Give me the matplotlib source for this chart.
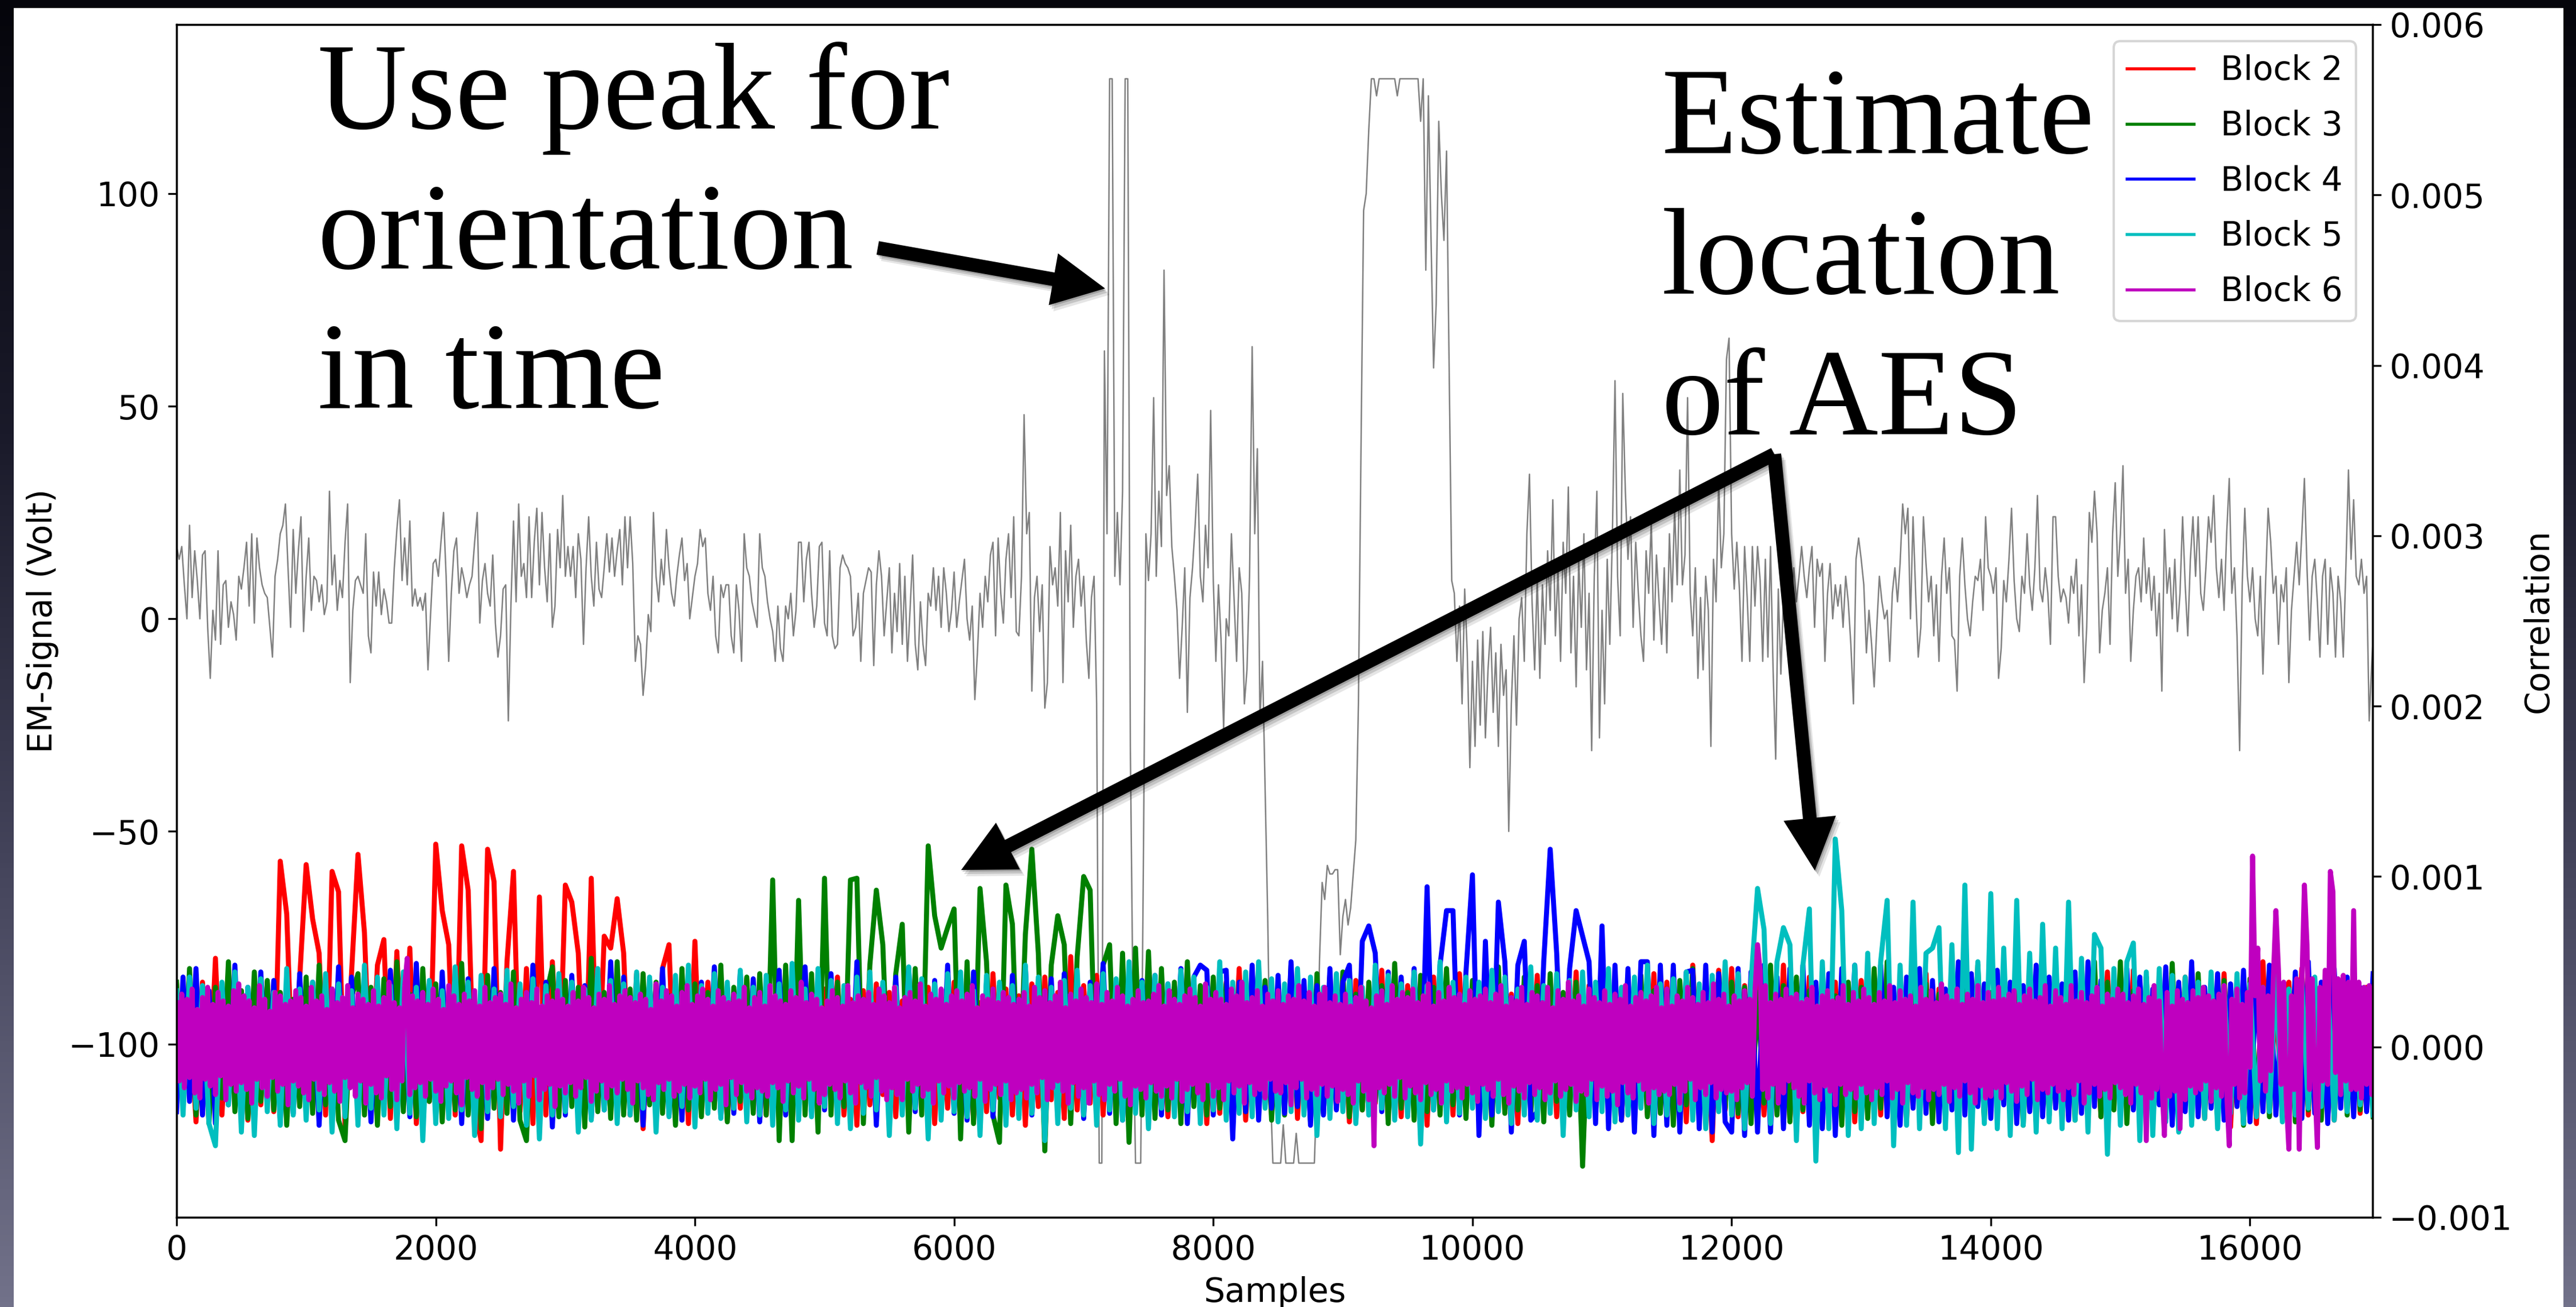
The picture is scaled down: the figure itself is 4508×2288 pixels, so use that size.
import numpy as np
import matplotlib
matplotlib.use("Agg")
import matplotlib.pyplot as plt
from matplotlib.patches import FancyArrow, Rectangle
from matplotlib.colors import LinearSegmentedColormap

W, H, DPI = 4508, 2288, 300

# EM trace in Volt, one value every 20 samples
EM_STEP = 20
em_signal = [
    17, 14, 17, 8, 0, 22, 5, 16, 9, 0, 15, 16, -2, -14, 2, -5, 16, -6, 8, 9, -2, 4, 1, -5, 10,
    7, 12, 18, 3, 20, -1, 19, 12, 8, 6, 5, -2, -9, 10, 14, 20, 22, 27, 12, -2, 21, 6, 16, 24, -3,
    10, 19, 2, 10, 9, 4, 8, 1, 4, 30, 8, 15, 2, 9, 5, 18, 27, -15, 2, 9, 10, 8, 6, 20, -4,
    -8, 11, 3, 11, 1, 7, 4, -1, -1, 12, 21, 28, 9, 19, 8, 23, 3, 7, 3, 5, 2, 6, -12, 1, 13,
    14, 10, 18, 25, 10, -10, 6, 16, 19, 6, 12, 9, 5, 8, 10, 18, 25, -1, 9, 13, 6, 3, 15, -1, -9,
    -4, 7, 8, -24, 3, 23, 4, 27, 10, 13, 5, 24, 5, 18, 26, 8, 25, 12, 4, 20, -2, 3, 21, 12, 29,
    10, 17, 10, 17, 5, 20, 14, -6, 12, 24, 10, 3, 18, 7, 5, 12, 20, 11, 19, 10, 16, 21, 8, 24, 12,
    24, 13, -10, -4, -6, -18, -11, 1, -3, 25, 10, 4, 14, 8, 21, 12, 6, 3, 10, 15, 19, 9, 13, 0, 5,
    10, 13, 21, 17, 19, 6, 2, 10, -4, -8, 8, 5, 8, 8, -4, -8, 8, 2, -10, 20, 12, 10, 4, 1, -2,
    20, 12, 10, 4, 0, -3, -10, 3, -7, -10, 3, 0, 6, -4, 2, 18, 18, 4, 14, 18, 6, -2, 3, 17, 18,
    -1, -4, 16, -4, -7, -6, 12, 15, 13, 12, 10, -4, -2, 6, -10, 6, 9, 12, 11, -11, 8, 16, 10, -4, 4,
    12, -8, 6, -3, 13, -6, 10, -10, 2, 15, -6, -12, 4, -6, -11, 6, 3, 12, 2, 10, -2, 12, 6, -3, 2,
    11, -2, 4, 9, 14, 0, -5, 3, -19, -8, 6, -2, 10, 4, 15, 18, -4, 19, 6, -1, 14, 20, 5, 24, -3,
    -4, 10, 48, 20, 25, -17, 5, 10, -3, 8, -21, -15, 17, 8, 12, 3, 25, -15, 16, 4, 22, -2, 10, 14, 3,
    10, -5, -14, 5, 10, -20, -128, -128, 63, 20, 127, 127, 10, 25, 8, 30, 127, 127, -30, -90, -128, -128, -128, -60, 20,
    9, 20, 52, 10, 30, 17, 82, 29, 36, 17, 10, 2, -14, -2, 12, -22, 5, 12, 22, 34, 10, 4, 22, 12, 49,
    9, -10, 8, -5, -26, 0, -4, 20, 5, -10, 12, 6, -20, -12, 10, 64, 20, 40, -24, -10, -40, -70, -110, -128, -128,
    -128, -128, -119, -128, -128, -128, -128, -121, -128, -128, -128, -128, -128, -128, -128, -110, -80, -62, -66, -58, -60, -60, -59, -59, -79,
    -70, -66, -72, -68, -60, -52, -20, 40, 96, 100, 115, 127, 127, 123, 127, 127, 127, 127, 127, 127, 127, 123, 127, 127, 127,
    127, 127, 127, 127, 127, 117, 127, 82, 123, 90, 59, 74, 117, 100, 89, 110, 60, 9, 6, -10, 3, -20, 7, -8, -35,
    -10, -30, -5, -25, -3, -28, -12, -2, -22, -8, -30, -6, -18, -12, -50, -20, -4, -25, 0, 5, -10, 20, 34, 4, -12,
    10, -14, 8, -6, 16, 2, 28, -4, 12, -10, 18, 6, 31, -8, 10, -16, 14, -2, 20, -12, 6, -31, 10, 30, -28,
    2, -20, 14, -6, 20, 56, 10, -4, 53, 30, 14, 24, -2, 18, 6, -4, -10, 16, 6, 23, -5, 15, 4, -6, 12,
    -8, 20, 4, 26, 8, 35, 8, 15, 52, 6, -4, 12, -14, 5, -12, 10, 2, -30, 14, 4, 33, 12, 20, 61, 66,
    20, 7, 18, 7, -10, 17, 5, -10, 17, 3, 17, 9, -10, 14, -9, 17, -12, -33, 7, -13, 5, 9, -4, 5, 12,
    4, 10, 17, 10, 5, 12, 17, -2, 14, 10, 13, -10, 6, 13, 0, 8, 3, 8, -2, 10, 4, -6, -20, 14, 19,
    14, 8, -8, 2, -6, -16, -2, 10, 4, 0, 2, -10, 6, 12, 4, 13, 27, 20, 26, 0, 24, 6, -9, -2, 24,
    13, 4, 10, -4, 8, -10, 10, 19, 6, 12, -4, -5, -17, 10, 19, 8, 0, -4, 4, 10, 9, 14, 2, 24, 12,
    10, 6, 12, -14, -7, 9, 4, 14, 26, 9, 0, -3, 10, 6, 20, 8, 2, 12, 29, 7, 4, 12, 6, -6, 24,
    24, 10, 4, 7, 5, -1, 10, 6, 14, -4, 8, -15, -2, 25, 18, 30, 20, -8, 2, 6, 12, -6, 20, 32, 10,
    20, 36, 6, 14, -10, 2, 10, 12, 4, 19, 6, 12, 2, 10, -4, 6, -17, 21, 6, 12, 0, 14, -3, 6, 24,
    8, -4, 14, 24, 10, 24, 6, 2, 12, 24, 18, 29, 12, 5, 14, 2, 20, 33, 6, 12, -4, -31, 8, 26, 10,
    4, 12, 0, -4, 10, -13, 8, 26, 18, 6, 10, -6, 8, 4, 12, -15, 2, 10, 18, 8, 20, 33, 12, -5, 10,
    14, 4, -9, 10, 14, -6, 12, 6, -9, 10, 4, -9, 12, 35, 14, 28, 10, 8, 14, 6, 10, -24, -10, 0, 0,
]

# correlation per block, units of 1e-5, one value every 50 samples
CORR_STEP = 50
block2 = [
    36, -30, 24, -44, 38, -34, 52, -40, 30, -32,
    33, -43, 28, -34, 38, -38, 109, 78, -30, 40,
    107, 75, 55, -40, 103, 91, -46, 43, 113, 67,
    -35, 48, 63, -42, 56, -30, 58, -45, 38, -32,
    119, 80, 60, -40, 118, 92, -35, -55, 116, 97,
    -60, 50, 103, -38, 46, -45, 88, -40, 50, -30,
    95, 85, 55, -40, 99, -35, 65, 58, 87, 55,
    -40, 43, -48, 38, -35, 46, 60, -40, 36, -45,
    62, -38, 38, -32, 33, -43, 28, -36, 40, -30,
    30, -40, 26, -35, 36, -45, 32, -30, 38, -38,
    34, -32, 41, -40, 28, -46, 33, -34, 37, -28,
    32, -41, 27, -37, 42, -32, 35, -45, 29, -36,
    38, -34, 31, -43, 26, -38, 43, -30, 34, -40,
    30, -46, 37, -35, 41, -31, 32, -42, 53, -37,
    36, -33, 42, -40, 27, -36, 39, -44, 33, -32,
    41, -38, 29, -41, 35, -34, 44, -30, 31, -45,
    34, -39, 38, -32, 46, -43, 32, -37, 28, -40,
    37, -35, 43, -42, 30, -38, 35, -31, 42, -36,
    31, -44, 39, -37, 33, -33, 45, -39, 28, -41,
    36, -32, 32, -46, 41, -36, 29, -40, 43, -34,
    35, -43, 28, -35, 38, -38, 31, -45, 34, -31,
    42, -37, 33, -41, 27, -34, 44, -48, 36, -39,
    30, -36, 39, -43, 35, -30, 32, -40, 43, -35,
    38, -38, 34, -44, 48, -32, 31, -55, 45, -37,
    46, -41, 36, -34, 43, -40, 30, -36, 48, -43,
    33, -38, 41, -46, 28, -35, 38, -32, 35, -44,
    39, -33, 32, -40, 44, -37, 29, -43, 36, -35,
    43, -39, 34, -34, 48, -45, 31, -38, 38, -41,
    32, -36, 40, -40, 35, -32, 46, -44, 33, -38,
    37, -43, 30, -37, 42, -35, 34, -41, 44, -33,
    29, -40, 45, -36, 33, -44, 38, -38, 31, -39,
    41, -35, 35, -42, 32, -38, 43, -47, 34, -34,
    36, -45, 50, -37, 30, -41, 38, -35, 46, -40,
    33, -36, 41, -43, 37, -34, 44, -39, 35, -32,
]
block3 = [
    38, -34, 46, -40, 30, -45, 35, -30, 50, -38,
    33, -42, 44, -32, 39, -37, 32, -46, 28, -35,
    41, -39, 48, -34, 34, -43, -55, 29, 43, -40,
    35, -46, 40, -35, 50, -38, 31, -41, 46, -32,
    37, -44, 33, -37, 49, -40, 28, -48, 42, -36,
    32, -39, 44, -43, -55, 36, -37, 30, 47, -41,
    39, -35, 35, -47, 52, -38, 32, -42, 50, -40,
    34, -43, 43, -34, 38, -39, 30, -46, 46, -37,
    37, -41, 32, -36, 48, -44, 35, -32, 41, -39,
    43, -40, 98, -55, 48, -55, 86, -40, 43, -50,
    99, -40, 38, -35, 98, 99, -45, 48, 92, 60,
    -40, 43, 72, -50, 46, -40, 118, 77, 58, 70,
    81, -54, 50, -45, 93, 50, -40, -56, 95, 72,
    -40, 66, 116, 55, -61, 48, 77, 60, -45, 53,
    100, 92, -40, 48, 60, -45, 55, -56, 58, -40,
    56, -42, 46, -37, 38, -45, 50, -35, 36, -40,
    41, -36, 37, -46, 32, -38, 45, -33, 39, -43,
    35, -40, 48, -35, 30, -44, 43, -39, 34, -34,
    44, -41, 31, -37, 38, -32, 36, -45, 49, -36,
    32, -43, 42, -38, 35, -40, 46, -34, 30, -42,
    39, -35, 34, -46, 47, -39, 29, -37, 41, -40,
    36, -44, 43, -32, 32, -40, 38, -70, 34, -38,
    45, -37, 30, -43, 37, -35, 42, -41, 33, -39,
    34, -46, 39, -34, 46, -38, 31, -42, 43, -36,
    38, -39, 35, -45, 32, -33, 48, -40, 36, -44,
    41, -37, 33, -41, 44, -35, 30, -46, 38, -38,
    35, -42, 46, -36, 50, -40, 32, -39, 42, -34,
    37, -45, 31, -38, 45, -41, 34, -35, 48, -43,
    32, -37, 42, -40, 36, -46, 39, -32, 33, -40,
    44, -39, 35, -43, 30, -36, 50, -41, 38, -37,
    50, -45, 33, -38, 41, -34, 37, -42, 49, -39,
    36, -40, 43, -36, 34, -43, 39, -38, 32, -46,
    40, -35, 35, -41, 46, -39, 31, -44, 38, -37,
    34, -43, 42, -34, 37, -40, 44, -37, 33, -41,
]
block4 = [
    -38, 41, -32, 46, -40, 33, -45, 37, -34, 48,
    -41, 35, -36, 44, -32, 39, -43, 32, -39, 43,
    -35, 38, -46, 34, -38, 47, -33, 41, -40, 36,
    -44, 33, -37, 45, -34, 38, -41, 49, -36, 37,
    -39, 44, -33, 35, -45, 40, -38, 32, -42, 46,
    -36, 39, -43, 33, -38, 48, -32, 38, -47, 35,
    -40, 42, -35, 36, -42, 34, -37, 50, -39, 41,
    -34, 37, -46, 39, -36, 46, -40, 33, -43, 43,
    -38, 38, -35, 47, -41, 35, -39, 44, -34, 40,
    -44, 36, -36, 45, -40, 41, -33, 47, -38, 39,
    -37, 43, -42, 34, -39, 50, -35, 38, -46, 36,
    -40, 41, -34, 46, -38, 35, -45, 39, -36, 48,
    -39, 34, -43, 44, -32, 38, -41, 36, -37, 42,
    -35, 47, -40, 35, -44, 40, -38, 43, -34, 37,
    -42, 38, -37, 49, -39, 34, -43, 45, -35, 39,
    -38, 42, -40, 37, -36, 46, -45, 41, 48, 45,
    -40, 44, 45, -54, 38, -38, 48, -43, 35, -36,
    42, -39, 50, -35, 39, -46, 36, -40, 46, -37,
    38, 48, -42, 62, 71, 55, -38, 44, -40, 41,
    -35, 46, -44, 94, -37, 48, 80, 80, -40, 44,
    101, -52, 62, -40, 85, 50, -50, 48, 62, -43,
    -38, 50, 116, 55, -40, 46, 80, 65, 50, -45,
    71, -48, 48, -43, 46, -50, 50, 50, -52, 48,
    -46, 48, -50, 44, 45, -48, 48, -50, 43, -44,
    -50, 46, -52, 44, -50, 48, -50, 41, -48, 46,
    -43, 48, -46, 38, -48, 43, -52, 46, -40, 48,
    -43, 44, -38, 48, -41, 35, -46, 41, -36, 46,
    -39, 39, -44, 34, -37, 50, -40, 43, -35, 37,
    -42, 45, -34, 38, -45, 36, -38, 48, -41, 41,
    -36, 37, -43, 44, -39, 50, -35, 39, -44, 35,
    -40, 46, -37, 41, -42, 34, -34, 47, -46, 38,
    -38, 50, -41, 35, -36, 43, -43, 37, -35, 45,
    -44, 40, -38, 48, -40, 34, -37, 44, -42, 50,
    -39, 38, -45, 46, -36, 41, -41, 35, -38, 43,
]
block5 = [
    33, -40, 41, -36, 36, -45, -58, 38, -34, 44,
    -50, 35, -52, 40, -38, 32, -46, 46, -40, 34,
    -43, 38, -37, 43, -50, 37, -41, 33, -46, 48,
    -36, 41, -40, 36, -48, 44, -39, 35, -55, 39,
    -45, 33, -42, 47, -37, 38, -52, 42, -38, 34,
    -41, 45, -35, 37, -46, 40, -54, 36, -40, 43,
    -38, 38, -50, 34, -43, 46, -37, 39, -45, 37,
    -40, 44, -36, 41, -50, 35, -41, 42, -35, 48,
    -47, 36, -39, 43, -42, 38, -36, 45, -44, 35,
    -40, 42, -46, 37, -37, 49, -43, 34, -41, 46,
    -35, 39, -45, 36, -48, 41, -39, 44, -37, 38,
    -52, 35, -40, 47, -36, 40, -54, 37, -43, 43,
    -38, 44, -41, 33, -52, 42, -37, 38, -46, 36,
    -42, 48, -39, 41, -55, 35, -45, 39, -36, 45,
    -40, 36, -46, 43, -37, 40, -43, 50, -39, 38,
    -48, 42, -36, 37, -41, 45, -38, 41, -45, 35,
    -37, 50, -43, 38, -39, 44, -41, 50, -36, 40,
    -44, 37, -38, 46, -40, 41, -52, 35, -42, 43,
    -38, 39, -45, 35, -40, 48, -36, 42, -43, 37,
    -41, 44, -57, 36, -37, 50, -44, 38, -39, 41,
    -36, 38, -42, 45, -38, 41, -45, 34, -40, 47,
    -43, 36, -39, 43, -52, 39, -37, 44, -41, 38,
    -38, 46, -44, 35, -40, 41, -36, 48, -45, 37,
    -40, 40, -37, 44, -43, 37, -48, 42, -38, 50,
    -40, 43, -48, 38, 93, 69, -45, 50, 70, 60,
    -55, 48, 81, -67, 50, -48, 122, 80, -52, 48,
    -48, 55, -45, 50, 86, -58, 48, -46, 85, -48,
    55, 58, 70, -48, 60, -62, 95, -60, 50, -45,
    90, -48, 58, -52, 86, -46, 55, -50, 72, -44,
    58, -48, 85, -43, 52, -50, 66, 58, -63, 46,
    -46, 50, 61, -55, 44, -52, 46, -44, 42, -50,
    41, -46, 38, -42, 44, -48, 36, -39, 43, -45,
    37, -41, 35, -38, 42, -44, 34, -40, 39, -36,
    41, -35, 38, -43, 36, -38, 44, -34, 33, -40,
]
# block 6 is drawn last and sits on top, sampled every 20
B6_STEP = 20
block6 = [
    26, -20, 31, -24, 28, -18, 34, -27, 22, -30, 29, -19, 35, -23, 25, -28, 32, -17, 27, -31, 24, -22, 33, -26, 37,
    -21, 30, -25, 27, -33, 23, -19, 36, -24, 28, -29, 21, -18, 32, -26, 30, -22, 25, -34, 27, -20, 33, -23, 29, -27,
    24, -31, 35, -19, 27, -25, 30, -28, 22, -21, 34, -26, 26, -32, 29, -18, 36, -24, 23, -29, 31, -20, 28, -33, 25,
    -22, 33, -27, 24, -30, 29, -17, 38, -25, 26, -31, 23, -20, 35, 52, -28, 30, -24, 27, -21, 32, -29, 25, -19, 34,
    -26, 28, -32, 22, -23, 36, -20, 30, -27, 25, -34, 31, -18, 27, -25, 33, -29, 24, -21, 35, -30, 26, -24, 29, -19,
    31, -28, 25, -22, 37, -26, 23, -33, 28, -20, 32, -29, 26, -17, 34, -31, 24, -25, 30, -22, 27, -35, 33, -23, 28,
    -27, 24, -21, 32, -29, 27, -24, 35, -18, 29, -32, 23, -26, 31, -20, 28, -30, 36, -23, 25, -27, 30, -19, 33, -25,
    29, -33, 26, -20, 31, -24, 28, -28, 22, -31, 37, -21, 27, -25, 33, -19, 30, -29, 24, -26, 32, -22, 36, -30, 25,
    -23, 30, -27, 34, -19, 28, -31, 24, -25, 33, -22, 29, -34, 26, -18, 31, -28, 27, -21, 35, -26, 23, -30, 29, -24,
    32, -26, 24, -29, 36, -21, 30, -24, 27, -32, 25, -20, 33, -27, 29, -23, 38, -30, 26, -19, 31, -25, 28, -33, 23,
    -28, 27, -22, 33, -25, 29, -30, 24, -20, 36, -27, 26, -33, 30, -21, 28, -24, 32, -29, 25, -18, 34, -26, 30, -31,
    26, -24, 35, -28, 23, -31, 29, -19, 32, -26, 27, -22, 37, -29, 24, -25, 31, -33, 28, -20, 34, -27, 25, -23, 30,
    -30, 33, -21, 27, -26, 31, -24, 36, -29, 23, -19, 30, -32, 28, -25, 34, -22, 26, -28, 32, -20, 29, -31, 25, -27,
    28, -25, 32, -30, 24, -22, 35, -27, 29, -18, 33, -31, 26, -24, 30, -20, 38, -26, 23, -33, 31, -21, 27, -29, 34,
    -24, 29, -33, 26, -20, 37, -28, 25, -31, 32, -22, 27, -26, 35, -19, 30, -29, 24, -34, 28, -23, 33, -25, 26, -30,
    27, -21, 31, -26, 36, -29, 24, -23, 33, -30, 28, -19, 25, -32, 30, -25, 34, -22, 29, -27, 24, -31, 37, -20, 28,
    -29, 32, -24, 28, -31, 25, -20, 34, -27, 30, -23, 38, -33, 26, -21, 29, -28, 33, -25, 24, -30, 31, -19, 27, -26,
    33, -27, 25, -21, 30, -34, 28, -24, 36, -19, 27, -30, 32, -25, 24, -28, 31, -22, 35, -29, 26, -23, 30, -32, 25,
    -25, 31, -28, 24, -33, 29, -20, 35, -26, 27, -31, 23, -58, 30, -24, 33, -27, 25, -22, 36, -29, 28, -18, 32, -30,
    29, -23, 34, -27, 26, -31, 30, -21, 37, -28, 24, -25, 32, -33, 27, -20, 35, -26, 29, -24, 31, -30, 25, -22, 33,
    -27, 28, -32, 30, -22, 34, -25, 26, -29, 31, -19, 36, -28, 24, -33, 29, -23, 27, -26, 35, -30, 25, -21, 32, -28,
    30, -24, 26, -31, 35, -27, 23, -20, 33, -29, 28, -25, 38, -22, 27, -32, 30, -26, 24, -28, 34, -19, 29, -31, 26,
    -23, 33, -29, 25, -26, 31, -34, 28, -21, 36, -27, 24, -30, 29, -20, 32, -25, 27, -33, 30, -24, 35, -28, 23, -26,
    34, -28, 24, -22, 30, -33, 27, -26, 35, -19, 29, -31, 25, -24, 32, -28, 26, -21, 37, -30, 28, -25, 31, -27, 24,
    -26, 30, -31, 27, -24, 33, -21, 28, -29, 32, 60, 45, -25, 36, -30, 26, -22, 31, -33, 28, -27, 34, -20, 29, -24,
    31, -29, 26, -33, 28, -20, 35, -27, 24, -31, 30, -23, 33, -26, 27, -34, 29, -22, 36, -28, 25, -25, 32, -30, 27,
    -22, 34, -27, 29, -31, 25, -24, 32, -28, 27, -20, 36, -30, 26, -25, 33, -33, 28, -21, 30, -27, 24, -29, 35, -24,
    28, -31, 33, -25, 26, -28, 37, -22, 30, -32, 27, -24, 34, -29, 25, -20, 31, -27, 28, -33, 36, -23, 26, -30, 32,
    -29, 27, -24, 35, -30, 28, -21, 31, -26, 33, -32, 25, -23, 30, -28, 34, -19, 27, -31, 29, -25, 36, -27, 24, -22,
    33, -26, 29, -31, 25, -24, 36, -28, 27, -20, 32, -33, 26, -27, 30, -22, 35, -29, 24, -25, 31, -30, 28, -21, 34,
    -24, 31, -28, 26, -33, 30, -22, 34, -27, 25, -55, 29, -30, 36, -25, 27, -21, -52, 32, -29, 24, -26, 33, -48, 28,
    -31, 26, -23, 33, -27, 29, -25, 35, -20, 30, -32, 27, -24, 31, -29, 36, -26, -58, 28, -22, 34, -30, 25, -27, 32,
    -12, 112, 30, 58, -20, 35, -26, 30, -14, 40, 80, 45, -22, 38, -30, -60, 30, -25, 40, -60, 35, 95, 60, -25, 40,
    -20, -59, 35, -20, 45, -22, 103, 91, -15, 40, -28, 42, -20, 38, -25, 80, -25, 38, -30, 35, -22, 36, -28, 28, -10,
]

block_names = ["Block 2", "Block 3", "Block 4", "Block 5", "Block 6"]
block_data = [block2, block3, block4, block5, block6]
block_steps = [CORR_STEP, CORR_STEP, CORR_STEP, CORR_STEP, B6_STEP]
block_colors = ["r", "g", "b", "c", "m"]

fig = plt.figure(figsize=(W / DPI, H / DPI), dpi=DPI)

# slide background with the chart pasted on it
bg = fig.add_axes([0, 0, 1, 1], zorder=-10)
grad = np.linspace(0, 1, 256).reshape(-1, 1)
slide = LinearSegmentedColormap.from_list("slide", ["#05050b", "#1a1a2a", "#45455c", "#72728a"])
bg.imshow(grad, aspect="auto", cmap=slide, extent=[0, 1, 0, 1], origin="upper")
bg.add_patch(Rectangle((24 / W, 0), (4486 - 24) / W, 1 - 14 / H,
                       facecolor="white", edgecolor="none", transform=bg.transAxes))
bg.set_axis_off()

ax = fig.add_axes([309 / W, 1 - 2131 / H, (4152 - 309) / W, (2131 - 43) / H])
x_em = np.arange(len(em_signal)) * EM_STEP
ax.plot(x_em, em_signal, color="gray", lw=0.6)
ax.set_xlim(0, 16946)
ax.set_ylim(-140.75, 139.75)
ax.set_yticks([-100, -50, 0, 50, 100])
ax.set_xlabel("Samples", fontsize=14)
ax.set_ylabel("EM-Signal (Volt)", fontsize=14)
ax.tick_params(labelsize=14)

ax2 = ax.twinx()
for name, vals, step, col in zip(block_names, block_data, block_steps, block_colors):
    xs = np.arange(len(vals)) * step
    ax2.plot(xs, np.array(vals) * 1e-5, color=col, lw=2.1, label=name)
ax2.set_ylim(-0.001, 0.006)
ax2.set_ylabel("Correlation", fontsize=14)
ax2.tick_params(labelsize=14)
leg = ax2.legend(loc="upper right", fontsize=14, labelspacing=0.68)
for ln in leg.get_lines():
    ln.set_linewidth(1.3)

# slide annotations, in pixel coordinates of the picture
ov = fig.add_axes([0, 0, 1, 1], zorder=10)
ov.set_xlim(0, W)
ov.set_ylim(H, 0)
ov.set_axis_off()

serif = dict(family="Liberation Serif", fontsize=52, color="black", ha="left", va="baseline")
for txt, y in zip(["Use peak for", "orientation", "in time"], [225, 470, 714]):
    ov.text(556, y, txt, **serif)
for txt, y in zip(["Estimate", "location", "of AES"], [268, 514, 760]):
    ov.text(2908, y, txt, **serif)


def arrow(x0, y0, x1, y1):
    for sx, sy, a in [(8, 11, 0.10), (5, 7, 0.14), (2, 3, 0.18)]:
        ov.add_patch(FancyArrow(x0 + sx, y0 + sy, x1 - x0, y1 - y0, width=24,
                                head_width=92, head_length=92, length_includes_head=True,
                                color="black", alpha=a, lw=0))
    ov.add_patch(FancyArrow(x0, y0, x1 - x0, y1 - y0, width=24, head_width=92,
                            head_length=92, length_includes_head=True, color="black", lw=0))


arrow(1536, 434, 1934, 505)
arrow(3105, 795, 1682, 1523)
arrow(3105, 795, 3176, 1524)

fig.savefig("out.png", dpi=DPI)
